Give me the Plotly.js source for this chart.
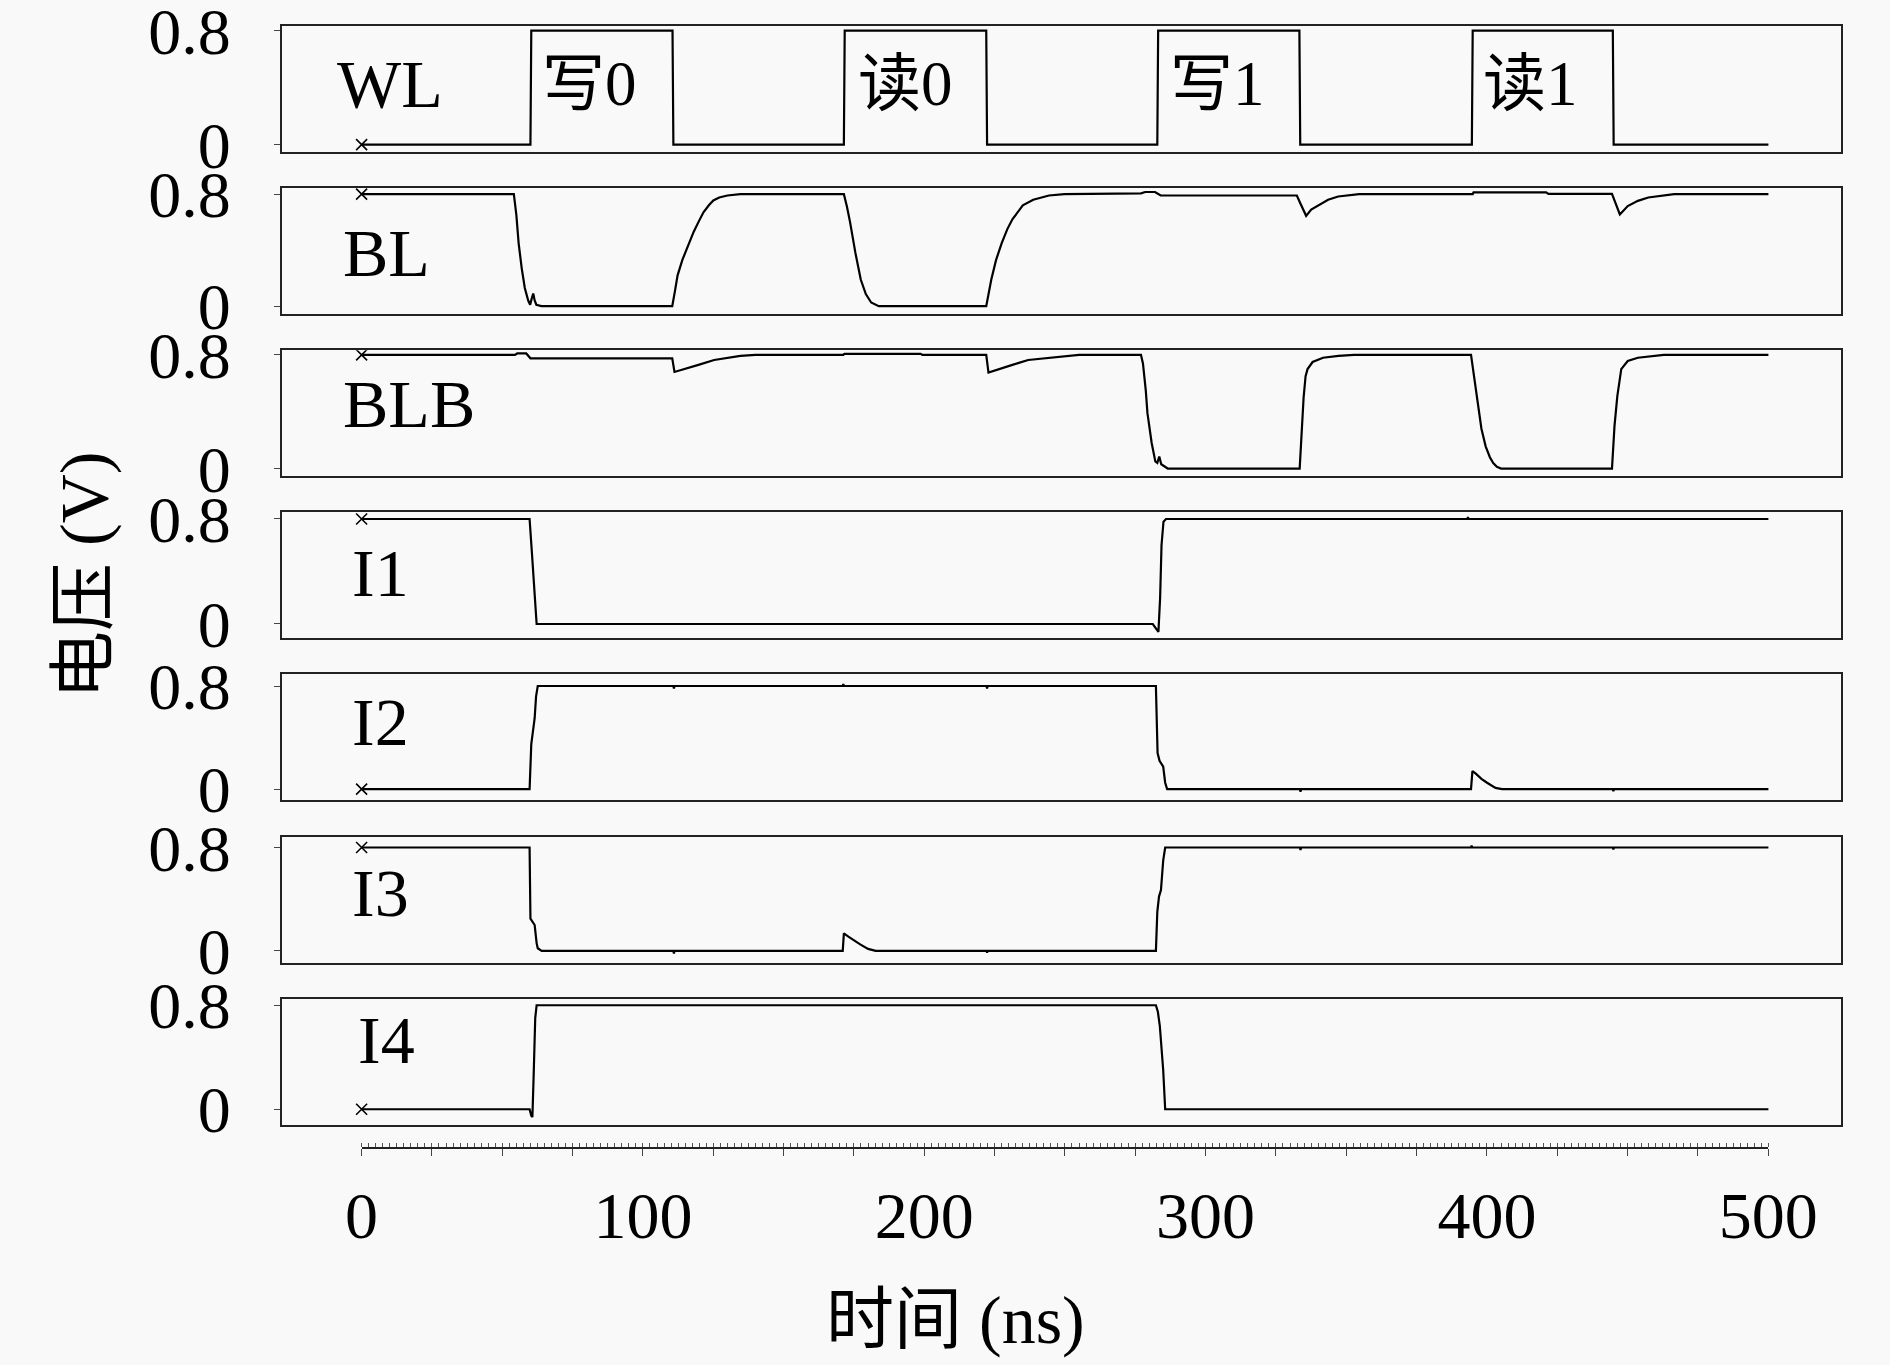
<!DOCTYPE html>
<html>
<head>
<meta charset="utf-8">
<script src="https://cdn.plot.ly/plotly-3.0.1.min.js"></script>
<style>html,body{margin:0;padding:0;background:#f9f9f9;}#chart{width:1890px;height:1365px;}</style>
</head>
<body>
<div id="chart"></div>
<script>
// ---- data (time in ns, voltage in V) ----
const signalNames = ['WL', 'BL', 'BLB', 'I1', 'I2', 'I3', 'I4'];
const WL = [[0,0],[60,0],[60.3,0.8],[110.5,0.8],[110.8,0],[171.4,0],[171.7,0.8],[222,0.8],[222.3,0],[282.8,0],[283.1,0.8],[333.3,0.8],[333.6,0],[394.6,0],[394.9,0.8],[444.7,0.8],[445,0],[500,0]];
const BL = [[0,0.8],[54.1,0.8],[55,0.65],[55.8,0.45],[56.9,0.27],[58,0.13],[59.2,0.04],[59.9,0.01],[60.4,0.05],[61,0.09],[61.5,0.04],[62.1,0.01],[63.9,0],
  [110.4,0],[111.3,0.1],[112.3,0.22],[114,0.33],[116,0.43],[118,0.53],[119.7,0.6],[121.5,0.67],[123.4,0.72],[125,0.755],[127.1,0.776],[130,0.79],[134.6,0.8],
  [171.4,0.8],[172.5,0.71],[173.6,0.6],[175.5,0.38],[177.4,0.19],[179.2,0.086],[181.1,0.026],[183.8,0],
  [222,0],[223.8,0.19],[225.5,0.33],[227.5,0.45],[229.5,0.55],[231.3,0.62],[235,0.72],[238.7,0.76],[244.3,0.79],[249.8,0.8],
  [277,0.806],[278.5,0.815],[282,0.815],[284,0.79],[332.4,0.79],[333.5,0.74],[335.7,0.645],[337.5,0.69],[339.8,0.717],[343.5,0.76],[347.1,0.783],[354.5,0.8],
  [394.9,0.8],[395.2,0.812],[421,0.812],[421.8,0.802],[444.4,0.802],[445.5,0.74],[447.2,0.655],[450,0.715],[453.6,0.752],[457.3,0.776],[466.5,0.8],[500,0.8]];
const BLB = [[0,0.8],[54.5,0.8],[55.3,0.81],[58.5,0.81],[60,0.776],[110.4,0.776],[111.2,0.68],[113,0.69],[116,0.705],[119.7,0.73],[125.3,0.764],[130.9,0.78],[134.6,0.793],[140,0.8],
  [171.2,0.8],[171.6,0.807],[198.7,0.807],[199.3,0.8],[222,0.8],[222.8,0.675],[225,0.69],[227.5,0.705],[231.3,0.73],[236.9,0.764],[244.3,0.78],[249.8,0.793],[255,0.8],
  [277,0.8],[277.7,0.74],[278.7,0.55],[279.3,0.39],[280.8,0.18],[282.1,0.05],[282.8,0.04],[283.5,0.085],[284.2,0.03],[286.5,0],
  [333.4,0],[334,0.25],[334.8,0.5],[335.5,0.65],[336.2,0.7],[338,0.75],[341.7,0.78],[347.2,0.793],[352.7,0.8],
  [394.3,0.8],[395.5,0.62],[396.7,0.44],[398,0.28],[399.5,0.156],[401,0.08],[402.2,0.038],[403.5,0.012],[405,0],
  [444.4,0],[445.3,0.3],[446.3,0.51],[447.7,0.7],[450,0.757],[453.6,0.78],[457.3,0.788],[462.8,0.8],[500,0.8]];
const I1 = [[0,0.8],[59.7,0.8],[60.5,0.55],[61.2,0.3],[62.2,0],[281.2,0],[282.3,-0.03],[283.2,-0.06],[283.8,0.2],[284.3,0.6],[285,0.78],[285.9,0.8],[393,0.8],[393.2,0.815],[393.4,0.8],[500,0.8]];
const I2 = [[0,0],[59.7,0],[60.3,0.35],[60.8,0.42],[61.5,0.55],[62,0.72],[62.6,0.8],[110.8,0.8],[111,0.78],[111.2,0.8],[171,0.8],[171.2,0.815],[171.4,0.8],[222.1,0.8],[222.3,0.78],[222.5,0.8],
  [282.3,0.8],[282.9,0.28],[283.6,0.22],[284.9,0.175],[285.6,0.05],[286.3,0],[333.5,0],[333.7,-0.02],[333.9,0],
  [394.3,0],[394.8,0.14],[396,0.12],[398,0.08],[400,0.05],[403,0.01],[405.3,0],[444.7,0],[444.9,-0.015],[445.1,0],[500,0]];
const I3 = [[0,0.8],[59.7,0.8],[60,0.25],[60.6,0.23],[61.5,0.2],[62.2,0.06],[62.6,0.02],[64,0],[110.8,0],[111,-0.02],[111.2,0],
  [171,0],[171.4,0.135],[173,0.11],[175,0.08],[177.2,0.05],[180,0.015],[182.7,0],[222.1,0],[222.3,-0.015],[222.5,0],
  [282.3,0],[282.8,0.3],[283.4,0.42],[284.1,0.47],[284.9,0.7],[285.6,0.8],[333.5,0.8],[333.7,0.78],[333.9,0.8],[394.3,0.8],[394.5,0.815],[394.7,0.8],[444.7,0.8],[444.9,0.785],[445.1,0.8],[500,0.8]];
const I4 = [[0,0],[59.7,0],[60.3,-0.05],[60.7,-0.06],[61.2,0.3],[61.7,0.7],[62.2,0.8],[282.3,0.8],[283,0.75],[283.7,0.64],[284.9,0.3],[285.6,0],[500,0]];
const yRanges = [[-0.052,0.833],[-0.057,0.843],[-0.054,0.833],[-0.109,0.851],[-0.087,0.89],[-0.09,0.885],[-0.118,0.851]];
const yTickVals = [0, 0.8];
const yTickText = ['0', '0.8'];
const xLabelVals = [0, 100, 200, 300, 400, 500];
const xLabelText = ['0', '100', '200', '300', '400', '500'];
const opLabels = ['写0', '读0', '写1', '读1'];
const xTitle = '时间 (ns)';
const yTitle = '电压 (V)';

// ---- layout helpers ----
const W = 1890, H = 1365;
const FONT = "'Liberation Serif', 'Noto Sans CJK SC', serif";
const px = v => v / W;
const py = v => 1 - v / H;
const signals = [WL, BL, BLB, I1, I2, I3, I4];

const traces = [];
const layout = {
  width: W, height: H,
  margin: {l: 0, r: 0, t: 0, b: 0},
  paper_bgcolor: '#f9f9f9', plot_bgcolor: '#f9f9f9',
  showlegend: false,
  font: {family: FONT, size: 66, color: '#000'},
  annotations: []
};

signals.forEach((sig, i) => {
  const n = i + 1;
  const xa = n === 1 ? 'x' : 'x' + n;
  const ya = n === 1 ? 'y' : 'y' + n;
  traces.push({x: sig.map(p => p[0]), y: sig.map(p => p[1]), xaxis: xa, yaxis: ya,
    mode: 'lines', line: {color: '#000', width: 2.2}, hoverinfo: 'skip'});
  traces.push({x: [sig[0][0]], y: [sig[0][1]], xaxis: xa, yaxis: ya, mode: 'markers',
    marker: {symbol: 'x-thin', size: 11, line: {color: '#000', width: 1.6}}, hoverinfo: 'skip'});
  const top = 26 + 162.1 * i, h = 126;
  layout['xaxis' + (n === 1 ? '' : n)] = {
    domain: [px(282), px(1841)], range: [-28.3, 525.8], anchor: ya,
    showline: true, mirror: true, linecolor: '#222', linewidth: 2,
    showticklabels: false, ticks: '', showgrid: false, zeroline: false
  };
  layout['yaxis' + (n === 1 ? '' : n)] = {
    domain: [py(top + h), py(top)], range: yRanges[i], anchor: xa,
    showline: true, mirror: true, linecolor: '#222', linewidth: 2,
    tickmode: 'array', tickvals: yTickVals, ticktext: yTickText,
    ticks: 'outside', ticklen: 6, tickwidth: 1, tickcolor: '#444',
    ticklabelstandoff: 30, ticklabeloverflow: 'allow',
    tickfont: {family: FONT, size: 66, color: '#000'},
    showgrid: false, zeroline: false
  };
});

// bottom time axis
const majorVals = [], majorText = [];
for (let t = 0; t <= 500; t += 25) {
  majorVals.push(t);
  const k = xLabelVals.indexOf(t);
  majorText.push(k >= 0 ? xLabelText[k] : '');
}
traces.push({x: [xLabelVals[0]], y: [0], xaxis: 'x8', yaxis: 'y8', mode: 'markers', marker: {opacity: 0}, hoverinfo: 'skip'});
layout.xaxis8 = {
  domain: [px(361.6), px(1768.3)], range: [0, 500], anchor: 'free', position: py(1147),
  showline: true, linecolor: '#222', linewidth: 1.5,
  tickmode: 'array', tickvals: majorVals, ticktext: majorText,
  ticks: 'outside', ticklen: 7, tickwidth: 1, tickcolor: '#444',
  minor: {tickmode: 'linear', tick0: 0, dtick: 2.5, ticks: 'inside', ticklen: 4, tickwidth: 1, tickcolor: '#555', showgrid: false},
  ticklabelstandoff: 3, ticklabeloverflow: 'allow',
  tickfont: {family: FONT, size: 66, color: '#000'},
  showgrid: false, zeroline: false
};
layout.yaxis8 = {domain: [0, 0.01], range: [0, 1], visible: false, anchor: 'x8'};

// signal name labels inside panels
const nameX = [335, 341, 341, 349.6, 349.6, 349.6, 355.6];
const nameY = [84, 253, 403.5, 573, 722, 893, 1040];
signalNames.forEach((nm, i) => {
  layout.annotations.push({text: nm, xref: 'paper', yref: 'paper', x: px(nameX[i]), y: py(nameY[i]),
    xanchor: 'left', yanchor: 'middle', showarrow: false, font: {family: FONT, size: 68, color: '#000'}});
});
// operation labels in WL panel
const opX = [540, 856, 1168, 1481];
opLabels.forEach((t, i) => {
  layout.annotations.push({text: t, xref: 'paper', yref: 'paper', x: px(opX[i]), y: py(84),
    xanchor: 'left', yanchor: 'middle', showarrow: false, font: {family: FONT, size: 63, color: '#000'}});
});
// axis titles
layout.annotations.push({text: xTitle, xref: 'paper', yref: 'paper', x: px(955), y: py(1320),
  xanchor: 'center', yanchor: 'middle', showarrow: false, font: {family: FONT, size: 68, color: '#000'}});
layout.annotations.push({text: yTitle, xref: 'paper', yref: 'paper', x: px(84), y: py(576), textangle: -90,
  xanchor: 'center', yanchor: 'middle', showarrow: false, font: {family: FONT, size: 68, color: '#000'}});

Plotly.newPlot('chart', traces, layout, {staticPlot: true, displayModeBar: false});
</script>
</body>
</html>
